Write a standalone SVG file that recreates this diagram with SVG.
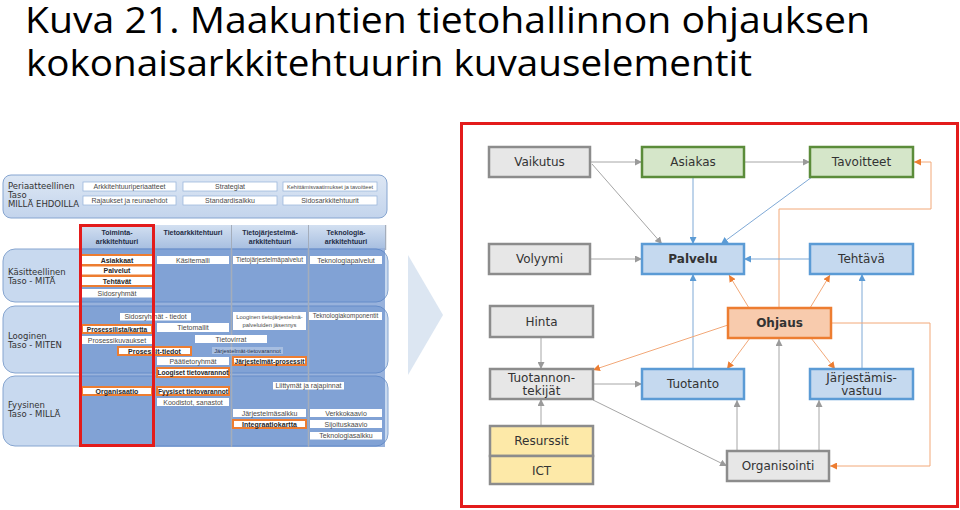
<svg xmlns="http://www.w3.org/2000/svg" width="960" height="510" viewBox="0 0 960 510">
<defs>
<linearGradient id="hg" x1="0" y1="0" x2="0" y2="1"><stop offset="0" stop-color="#d3e0f1"/><stop offset="1" stop-color="#a9c0e1"/></linearGradient>
<linearGradient id="pg" x1="0" y1="0" x2="0" y2="1"><stop offset="0" stop-color="#dde7f4"/><stop offset="1" stop-color="#c3d4ec"/></linearGradient>
<marker id="ag" viewBox="0 0 10 10" refX="10" refY="5" markerWidth="7" markerHeight="7" markerUnits="userSpaceOnUse" orient="auto"><path d="M0,0 L10,5 L0,10 z" fill="#9a9a9a"/></marker>
<marker id="ab" viewBox="0 0 10 10" refX="10" refY="5" markerWidth="7" markerHeight="7" markerUnits="userSpaceOnUse" orient="auto"><path d="M0,0 L10,5 L0,10 z" fill="#5b9bd5"/></marker>
<marker id="ao" viewBox="0 0 10 10" refX="10" refY="5" markerWidth="7" markerHeight="7" markerUnits="userSpaceOnUse" orient="auto"><path d="M0,0 L10,5 L0,10 z" fill="#ed7d31"/></marker>
</defs>
<style>
.title{font-family:"Open Sans","Noto Sans","Liberation Sans",sans-serif;font-size:37px;fill:#000}
.band{fill:#c8d9ef;stroke:#86a5d0;stroke-width:1}
.col{fill:#4d7bc2;fill-opacity:0.58}
.sep{stroke:#a4adbb;stroke-width:1.5}
.hdr{fill:url(#hg)}
.wb{fill:#fff}
.wbs{fill:#fff;stroke:#9db8dd;stroke-width:0.8}
.ob{fill:#fff;stroke:#ed7d31;stroke-width:2}
.t{font-family:"Liberation Sans",Arial,sans-serif;font-size:7px;fill:#4a4a4a;text-anchor:middle}
.tb{font-family:"Liberation Sans",Arial,sans-serif;font-size:7px;font-weight:bold;fill:#262626;text-anchor:middle}
.th{font-family:"Liberation Sans",Arial,sans-serif;font-size:7px;font-weight:bold;fill:#1f2d45;text-anchor:middle}
.lbl{font-family:"DejaVu Sans",Verdana,sans-serif;font-size:8.5px;fill:#333}
.g{fill:#e7e7e7;stroke:#8c8c8c;stroke-width:2.5}
.gr{fill:#d5e6c9;stroke:#5b8c3a;stroke-width:2.5}
.bl{fill:#c5d9ef;stroke:#5b9bd5;stroke-width:2.5}
.or{fill:#f8cbad;stroke:#ed7d31;stroke-width:2.5}
.ye{fill:#fde9a8;stroke:#8c8c8c;stroke-width:2.5}
.nt{font-family:"DejaVu Sans",Verdana,sans-serif;font-size:12px;fill:#333;text-anchor:middle}
.ntb{font-family:"DejaVu Sans",Verdana,sans-serif;font-size:12px;font-weight:bold;fill:#333;text-anchor:middle}
.cg{fill:none;stroke:#a6a6a6;stroke-width:1;marker-end:url(#ag)}
.cb{fill:none;stroke:#7fa9d6;stroke-width:1;marker-end:url(#ab)}
.co{fill:none;stroke:#f2a878;stroke-width:1;marker-end:url(#ao)}
</style>

<text class="title" x="25" y="33" textLength="845" lengthAdjust="spacingAndGlyphs">Kuva 21. Maakuntien tietohallinnon ohjauksen</text>
<text class="title" x="26" y="76" textLength="726" lengthAdjust="spacingAndGlyphs">kokonaisarkkitehtuurin kuvauselementit</text>

<g id="left-panel">
<g id="periaatteellinen">
<rect x="3" y="175" width="384" height="43" rx="8" fill="url(#pg)" stroke="#86a5d0"/>
<text class="lbl" x="8" y="189">Periaatteellinen</text>
<text class="lbl" x="8" y="197.5">Taso</text>
<text class="lbl" x="8" y="207">MILLÄ EHDOILLA</text>
<rect class="wbs" x="83" y="182" width="93" height="9"/><text class="t" x="129.5" y="189">Arkkitehtuuriperiaatteet</text>
<rect class="wbs" x="183" y="182" width="94" height="9"/><text class="t" x="230" y="189">Strategiat</text>
<rect class="wbs" x="283" y="182" width="94" height="9"/><text class="t" x="330" y="188.8" style="font-size:5.6px">Kehittämisvaatimukset ja tavoitteet</text>
<rect class="wbs" x="83" y="196" width="93" height="9"/><text class="t" x="129.5" y="203">Rajaukset ja reunaehdot</text>
<rect class="wbs" x="183" y="196" width="94" height="9"/><text class="t" x="230" y="203">Standardisalkku</text>
<rect class="wbs" x="283" y="196" width="94" height="9"/><text class="t" x="330" y="203">Sidosarkkitehtuurit</text>
</g>

<g id="bands">
<rect class="band" x="3" y="249" width="385" height="53" rx="12"/>
<rect class="band" x="3" y="306" width="385" height="67" rx="12"/>
<rect class="band" x="3" y="376" width="385" height="70" rx="12"/>
<text class="lbl" x="8" y="275">Käsitteellinen</text>
<text class="lbl" x="8" y="284">Taso - MITÄ</text>
<text class="lbl" x="8" y="339">Looginen</text>
<text class="lbl" x="8" y="348">Taso - MITEN</text>
<text class="lbl" x="8" y="408">Fyysinen</text>
<text class="lbl" x="8" y="417">Taso - MILLÄ</text>
</g>

<g id="columns">
<rect class="col" x="80" y="248" width="74" height="199"/>
<rect class="col" x="155" y="248" width="76" height="199"/>
<rect class="col" x="232" y="248" width="76" height="199"/>
<rect class="col" x="309" y="248" width="76" height="199"/>
<line class="sep" x1="154.5" y1="225" x2="154.5" y2="447"/>
<line class="sep" x1="231.5" y1="225" x2="231.5" y2="447"/>
<line class="sep" x1="308.5" y1="225" x2="308.5" y2="447"/>
<line class="sep" x1="385.5" y1="225" x2="385.5" y2="250"/>
<rect class="hdr" x="80" y="225" width="74" height="23"/>
<rect class="hdr" x="155" y="225" width="76" height="23"/>
<rect class="hdr" x="232" y="225" width="76" height="23"/>
<rect class="hdr" x="309" y="225" width="76" height="23"/>
<text class="th" x="117" y="235">Toiminta-</text><text class="th" x="117" y="243.5">arkkitehtuuri</text>
<text class="th" x="193" y="235">Tietoarkkitehtuuri</text>
<text class="th" x="270" y="235">Tietojärjestelmä-</text><text class="th" x="270" y="243.5">arkkitehtuuri</text>
<text class="th" x="346" y="235">Teknologia-</text><text class="th" x="346" y="243.5">arkkitehtuuri</text>
</g>

<g id="kasitteellinen-items">
<rect x="81" y="254" width="72" height="33" fill="#ed7d31"/>
<rect class="wb" x="82" y="256" width="70" height="8"/><text class="tb" x="117" y="262.5">Asiakkaat</text>
<rect class="wb" x="82" y="266.5" width="70" height="8"/><text class="tb" x="117" y="273">Palvelut</text>
<rect class="wb" x="82" y="277" width="70" height="8"/><text class="tb" x="117" y="283.5">Tehtävät</text>
<rect class="wb" x="82" y="289" width="70" height="8.5"/><text class="t" x="117" y="296">Sidosryhmät</text>
<rect class="wb" x="157" y="256" width="72" height="8"/><text class="t" x="193" y="262.5">Käsitemalli</text>
<rect class="wb" x="233" y="256" width="73" height="8"/><text class="t" x="269.5" y="262.3" style="font-size:6.4px">Tietojärjestelmäpalvelut</text>
<rect class="wb" x="310" y="256" width="72" height="8"/><text class="t" x="346" y="262.5">Teknologiapalvelut</text>
</g>

<g id="looginen-items">
<rect class="wb" x="120" y="313" width="71" height="7.5"/><text class="t" x="155.5" y="319.3">Sidosryhmät - tiedot</text>
<rect class="wb" x="233" y="312" width="73" height="18"/><text class="t" x="269.5" y="318.5" style="font-size:5.8px">Looginen tietojärjestelmä-</text><text class="t" x="269.5" y="326.5" style="font-size:5.8px">palveluiden jäsennys</text>
<rect class="wb" x="309" y="312" width="73" height="8"/><text class="t" x="345.5" y="318.3" style="font-size:6.4px">Teknologiakomponentit</text>
<rect class="ob" x="82" y="325" width="70" height="8"/><text class="tb" x="117" y="331.5" style="font-size:6.6px">Prosessilista/kartta</text>
<rect class="wb" x="157" y="323" width="72" height="9"/><text class="t" x="193" y="330">Tietomallit</text>
<rect class="wb" x="82" y="336" width="70" height="8"/><text class="t" x="117" y="342.5">Prosessikuvaukset</text>
<rect class="wb" x="195" y="335" width="72" height="8"/><text class="t" x="231" y="341.5">Tietovirrat</text>
<rect class="ob" x="118" y="347" width="73" height="8"/><text class="tb" x="154.5" y="353.5">Prosessit-tiedot</text>
<rect x="212" y="347" width="71" height="7" fill="#fff" fill-opacity="0.3"/><text class="t" x="247.5" y="352.8" style="font-size:5.8px;fill:#2a3550">Järjestelmät-tietovarannot</text>
<rect class="wb" x="157" y="357" width="72" height="8"/><text class="t" x="193" y="363.5">Päätietoryhmät</text>
<rect class="ob" x="233" y="357" width="73" height="8"/><text class="tb" x="269.5" y="363.5" style="font-size:6.6px">Järjestelmät-prosessit</text>
<rect class="ob" x="157" y="368" width="72" height="9"/><text class="tb" x="193" y="375" style="font-size:6.6px">Loogiset tietovarannot</text>
</g>

<g id="fyysinen-items">
<rect class="ob" x="82" y="387" width="70" height="8"/><text class="tb" x="117" y="393.5">Organisaatio</text>
<rect class="ob" x="157" y="387" width="72" height="8"/><text class="tb" x="193" y="393.5" style="font-size:6.6px">Fyysiset tietovarannot</text>
<rect class="wb" x="157" y="398" width="72" height="8"/><text class="t" x="193" y="404.5">Koodistot, sanastot</text>
<rect class="wb" x="273" y="382" width="71" height="7.5"/><text class="t" x="308.5" y="388.3">Liittymät ja rajapinnat</text>
<rect class="wb" x="233" y="409" width="73" height="8"/><text class="t" x="269.5" y="415.5">Järjestelmäsalkku</text>
<rect class="wb" x="310" y="409" width="72" height="8"/><text class="t" x="346" y="415.5">Verkkokaavio</text>
<rect class="ob" x="233" y="420" width="73" height="8"/><text class="tb" x="269.5" y="426.5">Integraatiokartta</text>
<rect class="wb" x="310" y="420" width="72" height="8"/><text class="t" x="346" y="426.5">Sijoituskaavio</text>
<rect class="wb" x="310" y="432" width="72" height="7.5"/><text class="t" x="346" y="438.3">Teknologiasalkku</text>
</g>

<rect id="red-column" x="80.5" y="225.5" width="73" height="220" fill="none" stroke="#e31b1b" stroke-width="3"/>
</g>

<polygon id="chevron" points="408,255 443,315 408,375" fill="#dce6f2"/>

<rect id="red-frame" x="461.5" y="123.5" width="496" height="383" fill="none" stroke="#e31b1b" stroke-width="3"/>

<g id="connectors">
<path class="cg" d="M590,162 L642,162"/>
<path class="cg" d="M744,162 L810,162"/>
<path class="cg" d="M592,164 L662,244"/>
<path class="cb" d="M693,177 L693,244"/>
<path class="cb" d="M812,177 L721,244"/>
<path class="co" d="M779,308 L779,209 L931,209 L931,162 L914,162"/>
<path class="cg" d="M590,259 L642,259"/>
<path class="cb" d="M810,259 L744,259"/>
<path class="cb" d="M693,369 L693,274"/>
<path class="cb" d="M862,369 L862,274"/>
<path class="co" d="M749,308 L729,275"/>
<path class="co" d="M810,308 L830,275"/>
<path class="co" d="M728,325 L593,370"/>
<path class="co" d="M750,338 L727,369"/>
<path class="co" d="M811,338 L835,369"/>
<path class="co" d="M831,323 L930,323 L930,466 L830,466"/>
<path class="cg" d="M541,337 L541,369"/>
<path class="cg" d="M541,426 L541,399"/>
<path class="cg" d="M593,384 L642,384"/>
<path class="cg" d="M593,400 L727,466"/>
<path class="cg" d="M737,451 L737,400"/>
<path class="cg" d="M819,451 L819,400"/>
<path class="cg" d="M779,451 L779,339"/>
</g>

<g id="vaikutus"><rect class="g" x="489" y="147" width="101" height="30"/><text class="nt" x="539.5" y="166">Vaikutus</text></g>
<g id="asiakas"><rect class="gr" x="642" y="147" width="102" height="30"/><text class="nt" x="693" y="166">Asiakas</text></g>
<g id="tavoitteet"><rect class="gr" x="810" y="147" width="103" height="30"/><text class="nt" x="861.5" y="166">Tavoitteet</text></g>
<g id="volyymi"><rect class="g" x="489" y="244" width="101" height="30"/><text class="nt" x="539.5" y="263">Volyymi</text></g>
<g id="palvelu"><rect class="bl" x="642" y="244" width="102" height="30"/><text class="ntb" x="693" y="263">Palvelu</text></g>
<g id="tehtava"><rect class="bl" x="810" y="244" width="103" height="30"/><text class="nt" x="861.5" y="263">Tehtävä</text></g>
<g id="hinta"><rect class="g" x="490" y="306" width="103" height="31"/><text class="nt" x="541.5" y="325.5">Hinta</text></g>
<g id="ohjaus"><rect class="or" x="728" y="308" width="103" height="30"/><text class="ntb" x="779.5" y="327">Ohjaus</text></g>
<g id="tuotannontekijat"><rect class="g" x="490" y="369" width="103" height="30"/><text class="nt" x="541.5" y="382">Tuotannon-</text><text class="nt" x="541.5" y="395">tekijät</text></g>
<g id="tuotanto"><rect class="bl" x="642" y="369" width="102" height="30"/><text class="nt" x="693" y="388">Tuotanto</text></g>
<g id="jarjestamisvastuu"><rect class="bl" x="810" y="369" width="103" height="30"/><text class="nt" x="861.5" y="381.5">Järjestämis-</text><text class="nt" x="861.5" y="394.5">vastuu</text></g>
<g id="resurssit"><rect class="ye" x="490" y="426" width="103" height="30"/><text class="nt" x="541.5" y="445">Resurssit</text></g>
<g id="ict"><rect class="ye" x="490" y="456" width="103" height="28"/><text class="nt" x="541.5" y="474.5">ICT</text></g>
<g id="organisointi"><rect class="g" x="727" y="451" width="102" height="30"/><text class="nt" x="778" y="470">Organisointi</text></g>
</svg>
